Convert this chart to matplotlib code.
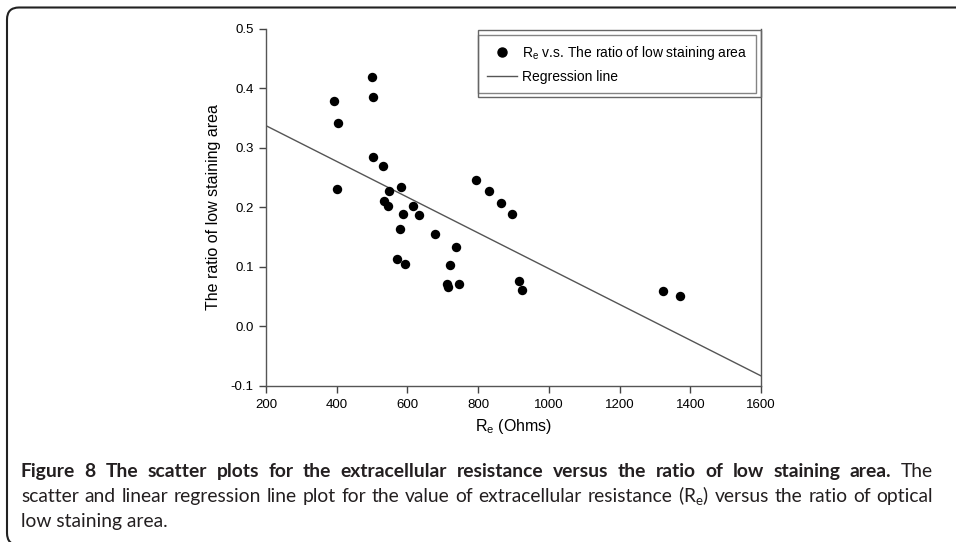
import matplotlib
matplotlib.use("Agg")
import matplotlib.pyplot as plt
from matplotlib.patches import FancyBboxPatch, Rectangle
from matplotlib.lines import Line2D
from matplotlib.transforms import IdentityTransform

# data
re_ohms = [393, 403, 402, 499, 502, 504, 530, 548, 535, 544, 583, 615, 587, 632,
           580, 677, 738, 570, 593, 720, 711, 714, 746, 794, 831, 864, 897, 915,
           925, 1322, 1370]
ratio = [0.378, 0.342, 0.231, 0.418, 0.385, 0.285, 0.269, 0.227, 0.211, 0.202,
         0.234, 0.202, 0.189, 0.187, 0.164, 0.155, 0.134, 0.113, 0.104, 0.103,
         0.071, 0.067, 0.071, 0.245, 0.227, 0.208, 0.188, 0.076, 0.062, 0.060,
         0.051]
reg_x = [200, 1600]
reg_y = [0.337, -0.083]
x_ticks = [200, 400, 600, 800, 1000, 1200, 1400, 1600]
y_ticks = [-0.1, 0.0, 0.1, 0.2, 0.3, 0.4, 0.5]

plt.rcParams['font.family'] = 'Liberation Sans'
W, H = 956, 542
fig = plt.figure(figsize=(W / 100, H / 100), dpi=100)
ax = fig.add_axes([266 / W, 1 - 386 / H, 495 / W, (386 - 28.6) / H])

ax.scatter(re_ohms, ratio, s=46, color='black', zorder=3, linewidths=0)
ax.plot(reg_x, reg_y, color='#555555', lw=1.0)

ax.set_xlim(200, 1600)
ax.set_ylim(-0.1, 0.5)
ax.set_xticks(x_ticks)
ax.set_yticks(y_ticks)
ax.set_yticklabels(['%.1f' % v for v in y_ticks])
ax.tick_params(direction='out', length=5, width=1, color='#444444', labelsize=9.5,
               pad=4)
ax.spines['top'].set_visible(False)
for s in ['left', 'bottom', 'right']:
    ax.spines[s].set_color('#555555')
    ax.spines[s].set_linewidth(1)
ax.set_xlabel(r'$\mathregular{R_e}$ (Ohms)', fontsize=11.5, labelpad=5)
ax.set_ylabel('The ratio of low staining area', fontsize=11.5, labelpad=7)

handles = [
    Line2D([], [], ls='none', marker='o', color='black', markersize=6.5),
    Line2D([], [], color='#555555', lw=1.0),
]
labels = [r'$\mathregular{R_e}$ v.s. The ratio of low staining area', 'Regression line']
leg = ax.legend(handles, labels, loc='upper right', bbox_to_anchor=(0.9899, 0.982),
                borderaxespad=0, fontsize=10, frameon=True, fancybox=False,
                edgecolor='#666666', handlelength=2.2, handletextpad=0.3,
                labelspacing=0.55, borderpad=0.65)
leg.get_frame().set_linewidth(1)

# outer legend border
fig.patches.append(Rectangle((478, H - 97), 283, 67, fill=False, lw=1,
                             edgecolor='#666666', transform=IdentityTransform()))

# rounded figure frame
fig.patches.append(FancyBboxPatch((7, -3), 1200, H - 4.5, fill=False, lw=1.5,
                                  edgecolor='#222222',
                                  boxstyle='round,pad=0,rounding_size=12',
                                  transform=IdentityTransform()))

# caption, justified
cap_font = 'Lato'
x_left, x_right = 21, 933
lines = [
    ([(w, 'bold') for w in 'Figure 8 The scatter plots for the extracellular resistance '
      'versus the ratio of low staining area.'.split()] + [('The', 'normal')], True, 477),
    ([(w, 'normal') for w in 'scatter and linear regression line plot for the value of '
      'extracellular resistance'.split()] + [(r'($\mathregular{R_e}$)', 'normal')]
     + [(w, 'normal') for w in 'versus the ratio of optical'.split()], True, 502),
    ([('low staining area.', 'normal')], False, 527),
]

fig.canvas.draw()
renderer = fig.canvas.get_renderer()


def text_width(s, weight, size):
    t = fig.text(0, 0, s, fontsize=size, fontweight=weight, family=cap_font)
    w = t.get_window_extent(renderer).width
    t.remove()
    return w


size = 16
space = text_width('a b', 'normal', size) - text_width('ab', 'normal', size)
natural = max(sum(text_width(w, wt, size) for w, wt in words) + space * (len(words) - 1)
              for words, justify, _ in lines if justify)
if natural > (x_right - x_left):
    size *= (x_right - x_left) / natural * 0.99

for words, justify, base in lines:
    widths = [text_width(w, wt, size) for w, wt in words]
    gap = (x_right - x_left - sum(widths)) / (len(words) - 1) if justify else 0
    x = x_left
    for (w, wt), wd in zip(words, widths):
        fig.text(x / W, 1 - base / H, w, fontsize=size, fontweight=wt,
                 family=cap_font, va='baseline', ha='left', color='#231f20')
        x += wd + gap

fig.savefig('out.png', dpi=100)
